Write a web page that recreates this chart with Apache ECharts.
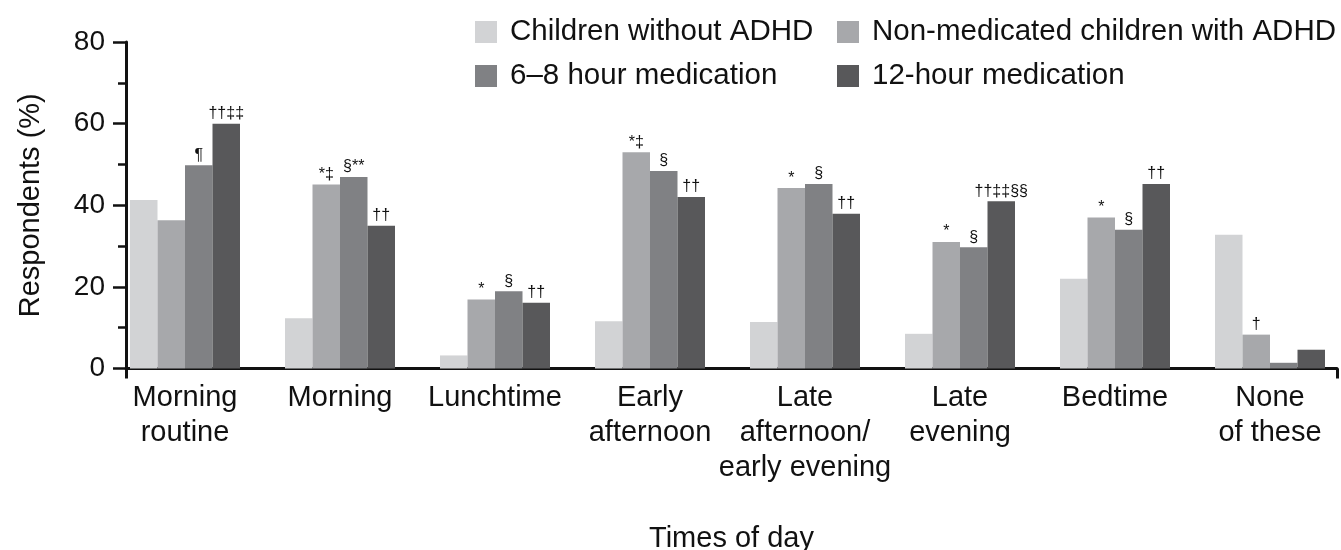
<!DOCTYPE html>
<html>
<head>
<meta charset="utf-8">
<script src="https://cdn.jsdelivr.net/npm/echarts@6/dist/echarts.min.js"></script>
<style>
  html, body { margin: 0; padding: 0; background: #ffffff; }
  #chart { width: 1341px; height: 550px; }
</style>
</head>
<body>
<div id="chart"></div>
<script>
// ---- Data ----
const categories = [
  'Morning\nroutine', 'Morning', 'Lunchtime', 'Early\nafternoon',
  'Late\nafternoon/\nearly evening', 'Late\nevening', 'Bedtime', 'None\nof these'
];
const seriesNames = [
  'Children without ADHD', 'Non-medicated children with ADHD',
  '6–8 hour medication', '12-hour medication'
];
const withoutADHD   = [41.3, 12.3, 3.2, 11.6, 11.4, 8.5, 22.0, 32.8];
const nonMedicated  = [36.3, 45.1, 16.9, 53.0, 44.2, 31.0, 37.0, 8.3];
const med6to8       = [49.8, 46.9, 18.9, 48.4, 45.2, 29.7, 34.0, 1.4];
const med12h        = [60.0, 35.0, 16.1, 42.0, 37.9, 41.0, 45.2, 4.6];

const notesWithout  = ['', '', '', '', '', '', '', ''];
const notesNonMed   = ['', '*‡', '*', '*‡', '*', '*', '*', '†'];
const notes6to8     = ['¶', '§**', '§', '§', '§', '§', '§', ''];
const notes12h      = ['††‡‡', '††', '††', '††', '††', '††‡‡§§', '††', ''];

const yTicks = [0, 20, 40, 60, 80];
const colors = ['#d2d3d5', '#a7a8ab', '#808184', '#58585a'];

// ---- Chart ----
const FONT = '"Liberation Sans", Arial, Helvetica, sans-serif';
const chart = echarts.init(document.getElementById('chart'));

const allValues = [withoutADHD, nonMedicated, med6to8, med12h];
const allNotes = [notesWithout, notesNonMed, notes6to8, notes12h];

const series = seriesNames.map((name, i) => ({
  name: name,
  type: 'bar',
  xAxisIndex: 0,
  yAxisIndex: 0,
  data: allValues[i],
  barWidth: 27.5,
  barGap: '0%',
  itemStyle: { color: colors[i] },
  label: {
    show: true,
    position: 'top',
    distance: 2,
    fontFamily: FONT,
    fontSize: 16,
    color: '#111',
    formatter: (p) => allNotes[i][p.dataIndex]
  }
}));

const legendCommon = {
  orient: 'vertical',
  top: 17,
  padding: 0,
  itemWidth: 22,
  itemHeight: 22,
  itemGap: 14,
  icon: 'rect',
  selectedMode: false,
  textStyle: {
    fontFamily: FONT,
    fontSize: 29.5,
    lineHeight: 22,
    color: '#111',
    padding: [0, 0, 0, 8]
  }
};

chart.setOption({
  animation: false,
  backgroundColor: '#ffffff',
  color: colors,
  legend: [
    Object.assign({}, legendCommon, { left: 475, data: [seriesNames[0], seriesNames[2]] }),
    Object.assign({}, legendCommon, { left: 837, data: [seriesNames[1], seriesNames[3]] })
  ],
  grid: [
    { left: 107.5, width: 1240, top: 42, bottom: 181.5, containLabel: false, outerBoundsMode: 'none' },
    { left: 126, right: 4, top: 42, bottom: 181.5, containLabel: false, outerBoundsMode: 'none' }
  ],
  xAxis: [
    {
      type: 'category',
      gridIndex: 0,
      data: categories,
      axisLine: { show: false },
      axisTick: { show: false },
      axisLabel: {
        interval: 0,
        margin: 12,
        fontFamily: FONT,
        fontSize: 29,
        lineHeight: 35,
        color: '#111',
        align: 'center'
      }
    },
    {
      type: 'value',
      gridIndex: 1,
      min: 0,
      max: 1,
      interval: 1,
      axisLine: { show: true, onZero: false, lineStyle: { color: '#111', width: 3 } },
      axisTick: { show: true, length: 10, lineStyle: { color: '#111', width: 3 } },
      axisLabel: { show: false },
      splitLine: { show: false },
      name: 'Times of day',
      nameLocation: 'middle',
      nameGap: 156,
      nameTextStyle: { fontFamily: FONT, fontSize: 29, color: '#111' }
    }
  ],
  yAxis: [
    {
      type: 'value',
      gridIndex: 0,
      min: 0,
      max: 80,
      interval: 20,
      show: false,
      splitLine: { show: false }
    },
    {
      type: 'value',
      gridIndex: 1,
      min: yTicks[0],
      max: yTicks[yTicks.length - 1],
      interval: 20,
      axisLine: { show: true, lineStyle: { color: '#111', width: 3 } },
      axisTick: { show: true, length: 13, lineStyle: { color: '#111', width: 2.5 } },
      minorTick: { show: true, splitNumber: 2, length: 8, lineStyle: { color: '#111', width: 2.5 } },
      splitLine: { show: false },
      axisLabel: {
        margin: 21,
        fontFamily: FONT,
        fontSize: 28,
        color: '#111'
      },
      name: 'Respondents (%)',
      nameLocation: 'middle',
      nameRotate: 90,
      nameGap: 81,
      nameTextStyle: { fontFamily: FONT, fontSize: 29, color: '#111' }
    }
  ],
  series: series
});
</script>
</body>
</html>
